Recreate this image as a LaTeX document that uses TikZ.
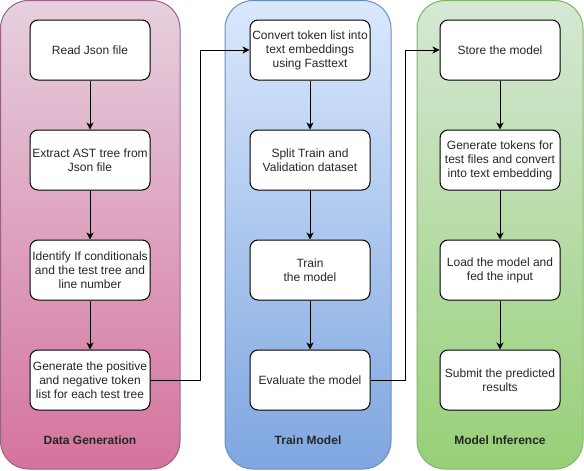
\documentclass[tikz,border=0pt]{standalone}
\usepackage{fontspec}
\setmainfont{Liberation Sans}
\usetikzlibrary{arrows.meta}
\definecolor{pinkA}{HTML}{E6D0DE}\definecolor{pinkB}{HTML}{D5739D}\definecolor{pinkS}{HTML}{996185}
\definecolor{blueA}{HTML}{DAE8FC}\definecolor{blueB}{HTML}{7EA6E0}\definecolor{blueS}{HTML}{6C8EBF}
\definecolor{greenA}{HTML}{D5E8D4}\definecolor{greenB}{HTML}{97D077}\definecolor{greenS}{HTML}{82B366}
\tikzset{
  stepbox/.style={draw=black, fill=white, rounded corners=8pt, line width=1pt,
    minimum width=120pt, minimum height=60pt, inner sep=0pt, align=center,
    font=\fontsize{12}{14}\selectfont, text=black!85},
  lane/.style={line width=1pt, rounded corners=28pt},
  lanelabel/.style={font=\fontsize{12}{14}\selectfont\bfseries, text=black!85},
  arr/.style={line width=1pt, -{Stealth[length=7pt,width=7pt,inset=2pt]}}
}
\begin{document}
\begin{tikzpicture}[x=1pt,y=-1pt]
\useasboundingbox (0,0) rectangle (584,471);
\path[lane, draw=pinkS, top color=pinkA, bottom color=pinkB] (0.5,0.5) rectangle (180,469);
\path[lane, draw=blueS, top color=blueA, bottom color=blueB] (225,0.5) rectangle (391,469);
\path[lane, draw=greenS, top color=greenA, bottom color=greenB] (417,0.5) rectangle (583,469);

\node[stepbox] (p1) at (90,50) {Read Json file};
\node[stepbox] (p2) at (90,160) {Extract AST tree from\\Json file};
\node[stepbox] (p3) at (90,270) {Identify If conditionals\\and the test tree and\\line number};
\node[stepbox] (p4) at (90,380) {Generate the positive\\and negative token\\list for each test tree};
\node[lanelabel] (lp) at (90,440) {Data Generation};

\node[stepbox] (b1) at (310,50) {Convert token list into\\text embeddings\\using Fasttext};
\node[stepbox] (b2) at (310,160) {Split Train and\\Validation dataset};
\node[stepbox] (b3) at (310,270) {Train\\the model};
\node[stepbox] (b4) at (310,380) {Evaluate the model};
\node[lanelabel] (lb) at (308,440) {Train Model};

\node[stepbox] (g1) at (500,50) {Store the model};
\node[stepbox] (g2) at (500,160) {Generate tokens for\\test files and convert\\into text embedding};
\node[stepbox] (g3) at (500,270) {Load the model and\\fed the input};
\node[stepbox] (g4) at (500,380) {Submit the predicted\\results};
\node[lanelabel] (lg) at (500,440) {Model Inference};

\draw[arr] (p1) -- (p2);
\draw[arr] (p2) -- (p3);
\draw[arr] (p3) -- (p4);
\draw[arr] (b1) -- (b2);
\draw[arr] (b2) -- (b3);
\draw[arr] (b3) -- (b4);
\draw[arr] (g1) -- (g2);
\draw[arr] (g2) -- (g3);
\draw[arr] (g3) -- (g4);
\draw[arr] (p4.east) -- ++(50,0) |- (b1.west);
\draw[arr] (b4.east) -- ++(35,0) |- (g1.west);
\end{tikzpicture}
\end{document}
